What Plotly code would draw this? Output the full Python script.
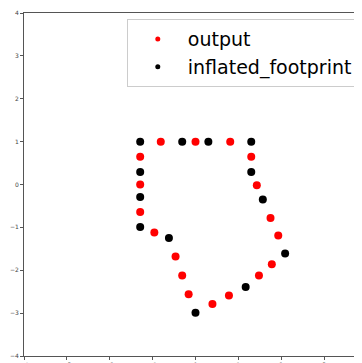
import plotly.graph_objects as go

# output points (red)
out_x = [-0.81, 0.0, 0.81, -1.29, -1.29, -1.29, -0.96, -0.465, -0.31, -0.16, 0.395, 0.78, 1.48, 1.78, 1.30, 1.43, 1.75, 1.93]
out_y = [1.0, 1.0, 1.0, 0.65, 0.0, -0.64, -1.12, -1.68, -2.12, -2.56, -2.79, -2.59, -2.12, -1.86, 0.65, -0.02, -0.78, -1.19]

# inflated footprint points (black)
foot_x = [-1.29, -0.31, 0.30, 1.30, 1.30, 1.57, 2.09, 1.17, 0.0, -0.62, -1.29, -1.29, -1.29]
foot_y = [1.0, 1.0, 1.0, 1.0, 0.29, -0.35, -1.61, -2.39, -2.99, -1.25, -0.99, -0.29, 0.29]

ticks = [-4, -3, -2, -1, 0, 1, 2, 3, 4]

fig = go.Figure()
fig.add_trace(go.Scatter(x=out_x, y=out_y, mode="markers", name="output",
                         marker=dict(color="red", size=8), showlegend=False))
fig.add_trace(go.Scatter(x=foot_x, y=foot_y, mode="markers", name="inflated_footprint",
                         marker=dict(color="black", size=8), showlegend=False))
# legend entries (small markers, like the reference)
fig.add_trace(go.Scatter(x=[None], y=[None], mode="markers", name="output",
                         marker=dict(color="red", size=5)))
fig.add_trace(go.Scatter(x=[None], y=[None], mode="markers", name="inflated_footprint",
                         marker=dict(color="black", size=5)))

axis_common = dict(showgrid=False, zeroline=False, showline=True, mirror=True,
                   linecolor="#555", linewidth=1, ticks="outside", ticklen=3,
                   tickcolor="#555", tickfont=dict(size=6, color="#444", family="DejaVu Sans"),
                   tickvals=ticks)
fig.update_xaxes(range=[-4, 3.86], **axis_common)
fig.update_yaxes(range=[-4, 4], **axis_common)

fig.update_layout(
    width=354, height=360,
    margin=dict(l=16, r=0, t=5, b=5),
    plot_bgcolor="white", paper_bgcolor="white",
    legend=dict(x=0.305, xanchor="left", y=0.982, yanchor="top",
                font=dict(size=19, family="DejaVu Sans", color="black"),
                bordercolor="#ccc", borderwidth=1, bgcolor="white",
                itemwidth=50, tracegroupgap=0),
)

fig.write_html("out.html")
